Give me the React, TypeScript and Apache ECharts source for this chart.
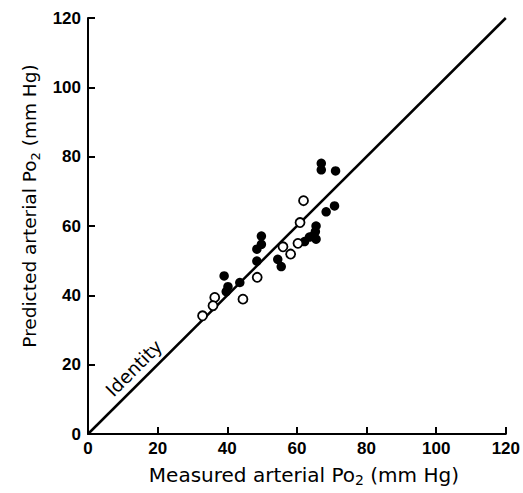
import React, { useEffect, useRef } from "react";
import * as echarts from "echarts";

const xTicks = [0, 20, 40, 60, 80, 100, 120];
const identityLine: [number, number][] = [[0, 0], [120, 120]];

const filledPoints: [number, number][] = [
  [67, 78.1], [67, 76.2], [71.1, 75.9], [70.8, 65.8], [68.4, 64.1],
  [65.5, 60], [65.3, 58.4], [64.6, 57.1], [65.5, 56.2], [63.6, 56.8],
  [62.2, 55.5], [49.8, 57.1], [49.8, 54.7], [48.5, 53.3], [48.5, 49.9],
  [54.5, 50.4], [55.5, 48.3], [43.6, 43.7], [39.1, 45.6], [40.2, 42.5],
  [39.7, 41.1],
];

const openPoints: [number, number][] = [
  [61.9, 67.3], [60.9, 61], [56, 54], [60.3, 55], [58.2, 51.9],
  [48.6, 45.2], [44.5, 38.9], [36.4, 39.4], [35.9, 37], [32.9, 34.1],
];

const identityLabel = { text: "Identity", x: 13.2, y: 19 };

export default function App() {
  const ref = useRef<HTMLDivElement>(null);
  useEffect(() => {
    if (!ref.current) return;
    const chart = echarts.init(ref.current, null, { renderer: "svg" });
    const font = "'Liberation Sans', Arial, Helvetica, sans-serif";
    const nameFont = "'DejaVu Sans', sans-serif";
    const axisCommon = {
      type: "value" as const,
      min: 0,
      max: 120,
      interval: 20,
      splitLine: { show: false },
      axisLine: { show: true, lineStyle: { color: "#000", width: 2 } },
      axisTick: { show: true, inside: true, length: 7, lineStyle: { color: "#000", width: 2 } },
      axisLabel: { color: "#000", fontFamily: font, fontSize: 17, fontWeight: "bold" as const },
      nameLocation: "middle" as const,
    };
    const richFor = (size: number) => ({
      a: { fontFamily: nameFont, fontSize: size, color: "#000", lineHeight: 24, verticalAlign: "middle" },
      s: { fontFamily: nameFont, fontSize: Math.round(size * 0.7), color: "#000", lineHeight: 24, verticalAlign: "bottom", padding: [7, 0, 0, 0] },
    });
    chart.setOption({
      animation: false,
      backgroundColor: "#fff",
      grid: { left: 88, right: 16, top: 18, bottom: 59, containLabel: false },
      xAxis: {
        ...axisCommon,
        axisLabel: { ...axisCommon.axisLabel, margin: 6, formatter: (v: number) => (xTicks.includes(v) ? String(v) : "") },
        name: "{a|Measured arterial Po}{s|2}{a| (mm Hg)}",
        nameGap: 29,
        nameTextStyle: { padding: [0, 0, 0, 14], rich: richFor(20) },
      },
      yAxis: {
        ...axisCommon,
        axisLabel: { ...axisCommon.axisLabel, margin: 7 },
        name: "{a|Predicted arterial Po}{s|2}{a| (mm Hg)}",
        nameGap: 44,
        nameTextStyle: { padding: [0, 0, 0, 40], rich: richFor(18.5) },
      },
      series: [
        {
          type: "line",
          data: identityLine,
          symbol: "none",
          lineStyle: { color: "#000", width: 2.5 },
          z: 1,
        },
        {
          type: "scatter",
          data: [[identityLabel.x, identityLabel.y]],
          symbolSize: 0,
          silent: true,
          itemStyle: { opacity: 1 },
          label: {
            show: true,
            position: "inside",
            formatter: identityLabel.text,
            rotate: 45,
            color: "#000",
            fontFamily: nameFont,
            fontSize: 18.5,
          },
          z: 2,
        },
        {
          type: "scatter",
          data: filledPoints,
          symbol: "circle",
          symbolSize: 9.5,
          itemStyle: { color: "#000", opacity: 1 },
          z: 3,
        },
        {
          type: "scatter",
          data: openPoints,
          symbol: "circle",
          symbolSize: 9,
          itemStyle: { color: "#fff", borderColor: "#000", borderWidth: 1.8, opacity: 1 },
          z: 4,
        },
      ],
    });
    return () => chart.dispose();
  }, []);
  return <div ref={ref} style={{ width: 523, height: 493, position: "absolute", left: 0, top: 0 }} />;
}
